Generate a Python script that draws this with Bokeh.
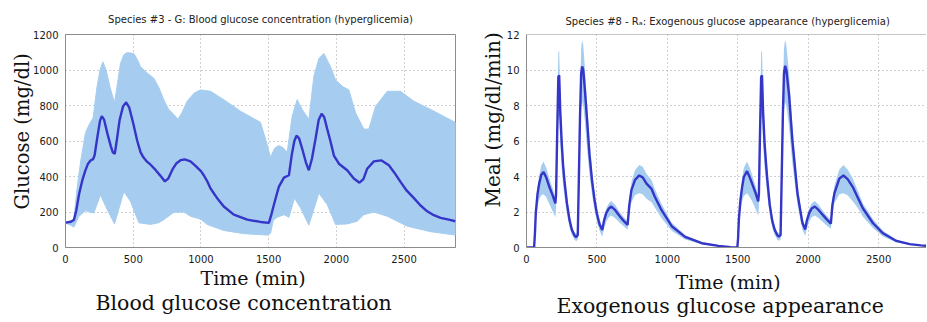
from bokeh.plotting import figure
from bokeh.layouts import row
from bokeh.models import Range1d, FixedTicker, Title, Span
from bokeh.embed import file_html
from bokeh.resources import INLINE

# ---------------- data: blood glucose G (mg/dl) ----------------
G_t_mean = [0, 40, 62, 80, 100, 123, 145, 165, 185, 204,
            215, 235, 255, 268, 285, 310, 335, 350, 364, 380,
            400, 425, 448, 470, 500, 530, 554, 575, 600, 630,
            665, 700, 734, 760, 790, 820, 850, 880, 923, 960,
            1000, 1021, 1050, 1071, 1100, 1120, 1169, 1243, 1342, 1440,
            1502, 1520, 1539, 1560, 1576, 1613, 1650, 1670, 1690, 1706,
            1725, 1748, 1775, 1797, 1820, 1846, 1870, 1891, 1910, 1933,
            1958, 1982, 2019, 2080, 2129, 2171, 2200, 2228, 2277, 2331,
            2388, 2430, 2474, 2520, 2573, 2620, 2671, 2720, 2770, 2830,
            2880]
G_mean = [140, 145, 155, 210, 300, 375, 430, 470, 490, 498,
          520, 620, 715, 740, 720, 640, 570, 535, 528, 610,
          720, 795, 818, 790, 700, 600, 537, 508, 485, 465,
          437, 405, 372, 390, 440, 475, 492, 496, 485, 460,
          430, 407, 368, 333, 300, 278, 231, 185, 157, 144,
          139, 185, 241, 300, 343, 394, 407, 518, 600, 630,
          615, 556, 480, 435, 500, 611, 720, 754, 735, 667,
          594, 518, 472, 435, 389, 365, 385, 444, 485, 491,
          463, 420, 370, 320, 278, 238, 204, 182, 167, 157,
          148]

G_t_hi = [0, 40, 62, 85, 111, 148, 180, 204, 233, 255,
          276, 300, 330, 362, 385, 406, 430, 455, 505, 530,
          554, 600, 652, 690, 726, 760, 800, 830, 860, 898,
          950, 997, 1071, 1169, 1292, 1440, 1477, 1514, 1545, 1576,
          1610, 1637, 1674, 1711, 1748, 1797, 1834, 1871, 1908, 1957,
          1994, 2050, 2092, 2142, 2203, 2240, 2290, 2376, 2474, 2573,
          2696, 2880]
G_hi = [142, 150, 165, 330, 481, 648, 700, 731, 907, 1000,
        1046, 1000, 900, 815, 930, 1037, 1085, 1098, 1093, 1060,
        1019, 985, 954, 900, 833, 780, 750, 722, 760, 824,
        870, 888, 880, 833, 768, 705, 611, 509, 560, 574,
        560, 537, 741, 833, 778, 722, 963, 1065, 1093, 1019,
        944, 905, 889, 759, 667, 667, 796, 880, 880, 824,
        778, 704]

G_t_lo = [0, 40, 62, 99, 148, 209, 258, 310, 362, 431,
          480, 542, 628, 690, 726, 800, 874, 923, 997, 1046,
          1169, 1317, 1490, 1514, 1535, 1563, 1613, 1650, 1691, 1736,
          1797, 1871, 1933, 1994, 2080, 2154, 2203, 2277, 2376, 2524,
          2696, 2880]
G_lo = [138, 125, 115, 176, 207, 194, 296, 210, 133, 315,
        259, 139, 130, 140, 157, 198, 200, 176, 160, 130,
        96, 78, 70, 80, 155, 170, 185, 170, 278, 222,
        126, 306, 241, 130, 133, 148, 185, 200, 176, 120,
        89, 70]

# ---------------- data: exogenous glucose appearance Ra (mg/dl/min) ----------------
R_t_day1 = [0, 54, 60, 66, 78, 90, 105, 121, 140, 162,
            185, 205, 210, 218, 226, 232, 240, 250, 260, 269,
            287, 305, 322, 340, 352, 364, 372, 380, 388, 395,
            403, 412, 430, 447, 465, 483, 500, 519, 538, 550,
            566, 585, 602, 630, 662, 690, 718, 730, 745, 770,
            800, 825, 852, 888, 911, 959, 1031, 1126, 1245, 1364,
            1450, 1497]
R_mean_day1 = [0, 0, 0.8, 1.94, 3.0, 3.6, 4.1, 4.25, 3.95, 3.42,
               2.95, 2.49, 3.0, 6.5, 9.6, 9.7, 7.6, 5.9, 4.6, 3.79,
               2.5, 1.57, 1.0, 0.69, 0.58, 0.7, 4.0, 7.4, 9.8, 10.2,
               10.0, 9.14, 7.2, 5.26, 3.8, 2.68, 1.9, 1.3, 0.98, 1.5,
               1.94, 2.2, 2.31, 2.1, 1.76, 1.5, 1.28, 2.4, 3.23, 3.8,
               4.06, 3.95, 3.6, 3.3, 2.86, 2.1, 1.2, 0.6, 0.24, 0.09,
               0.02, 0]
R_hi_day1 = [0, 0, 0.9, 2.15, 3.35, 4.05, 4.6, 4.85, 4.5, 3.9,
             3.35, 2.85, 3.4, 7.4, 11.0, 11.1, 8.7, 6.8, 5.3, 4.35,
             2.9, 1.85, 1.2, 0.88, 0.78, 0.9, 4.6, 8.5, 11.2, 11.7,
             11.4, 10.4, 8.2, 6.0, 4.35, 3.05, 2.2, 1.55, 1.2, 1.72,
             2.2, 2.5, 2.62, 2.4, 2.0, 1.72, 1.5, 2.75, 3.7, 4.35,
             4.65, 4.55, 4.15, 3.8, 3.3, 2.45, 1.4, 0.7, 0.3, 0.12,
             0.03, 0]
R_lo_day1 = [0, 0, 0.6, 1.5, 2.3, 2.7, 2.95, 3.0, 2.85, 2.45,
             2.05, 1.7, 2.3, 5.0, 7.2, 7.4, 5.8, 4.5, 3.5, 2.9,
             1.9, 1.15, 0.7, 0.45, 0.35, 0.45, 3.0, 5.8, 7.8, 8.2,
             8.0, 7.3, 5.6, 4.1, 3.0, 2.1, 1.45, 0.95, 0.6, 1.05,
             1.45, 1.7, 1.8, 1.65, 1.4, 1.2, 1.0, 1.9, 2.55, 2.95,
             3.05, 3.0, 2.75, 2.55, 2.25, 1.65, 0.95, 0.45, 0.18, 0.06,
             0.01, 0]

R_t_day2 = [1502, 1508, 1519, 1531, 1543, 1566, 1585, 1602, 1625, 1645,
            1650, 1658, 1666, 1672, 1680, 1690, 1700, 1709, 1727, 1745,
            1762, 1780, 1792, 1804, 1812, 1820, 1828, 1836, 1845, 1864,
            1888, 1924, 1959, 1979, 1990, 2007, 2025, 2047, 2075, 2102,
            2130, 2161, 2172, 2186, 2221, 2250, 2280, 2316, 2350, 2388,
            2459, 2531, 2626, 2721, 2800, 2880]
R_mean_day2 = [0.5, 1.6, 2.68, 3.4, 3.97, 4.3, 3.95, 3.6, 3.1, 2.6,
               3.0, 6.5, 9.6, 9.7, 7.6, 5.9, 4.8, 3.9, 2.4, 1.5,
               1.0, 0.7, 0.61, 0.7, 4.0, 7.4, 9.8, 10.24, 10.0, 8.6,
               6.0, 3.05, 1.38, 1.02, 1.5, 1.94, 2.2, 2.31, 2.1, 1.85,
               1.6, 1.35, 2.4, 3.05, 3.88, 4.06, 3.85, 3.42, 2.85, 2.21,
               1.38, 0.8, 0.37, 0.19, 0.12, 0.07]
R_hi_day2 = [0.6, 1.8, 3.05, 3.9, 4.5, 4.85, 4.5, 4.1, 3.5, 2.95,
             3.4, 7.4, 11.0, 11.1, 8.7, 6.8, 5.5, 4.5, 2.8, 1.75,
             1.2, 0.88, 0.8, 0.9, 4.6, 8.5, 11.2, 11.7, 11.4, 9.8,
             6.9, 3.5, 1.6, 1.25, 1.72, 2.2, 2.5, 2.62, 2.4, 2.1,
             1.82, 1.55, 2.75, 3.5, 4.4, 4.65, 4.4, 3.9, 3.25, 2.5,
             1.6, 0.95, 0.45, 0.23, 0.14, 0.09]
R_lo_day2 = [0.4, 1.3, 2.1, 2.6, 2.9, 3.05, 2.85, 2.6, 2.2, 1.8,
             2.3, 5.0, 7.2, 7.4, 5.8, 4.5, 3.7, 3.0, 1.85, 1.1,
             0.7, 0.45, 0.38, 0.45, 3.0, 5.8, 7.8, 8.2, 8.0, 6.8,
             4.7, 2.4, 1.0, 0.65, 1.05, 1.45, 1.7, 1.8, 1.65, 1.45,
             1.25, 1.05, 1.9, 2.5, 3.0, 3.05, 2.95, 2.6, 2.25, 1.75,
             1.1, 0.62, 0.28, 0.14, 0.08, 0.05]

R_t = R_t_day1 + R_t_day2
R_mean = R_mean_day1 + R_mean_day2
R_hi = R_hi_day1 + R_hi_day2
R_lo = R_lo_day1 + R_lo_day2

x_ticks = [0, 500, 1000, 1500, 2000, 2500]
G_ticks = [0, 200, 400, 600, 800, 1000, 1200]
R_ticks = [0, 2, 4, 6, 8, 10, 12]

BAND = "#a6cdef"
LINE = "#3535c8"
FRAME = "#8c8c8c"
SANS = "DejaVu Sans"
SERIF = "DejaVu Serif"


def style(p, yticks, title_standoff):
    p.xaxis.ticker = FixedTicker(ticks=x_ticks)
    p.yaxis.ticker = FixedTicker(ticks=yticks)
    p.grid.grid_line_color = "#a0a0a0"
    p.grid.grid_line_dash = "1 3"
    p.axis.major_tick_line_color = None
    p.axis.minor_tick_line_color = None
    p.axis.major_tick_out = 0
    p.axis.major_tick_in = 0
    p.axis.major_label_standoff = 7
    p.axis.major_label_text_font = SANS
    p.axis.major_label_text_font_size = "10px"
    p.axis.major_label_text_color = "#1a1a1a"
    p.axis.axis_line_color = FRAME
    p.title.text_font = SANS
    p.title.text_font_size = "10px"
    p.title.text_font_style = "normal"
    p.title.text_color = "#222222"
    p.title.standoff = title_standoff


def serif_title(text, size, align, offset, standoff, lh=1.2):
    return Title(text=text, align=align, offset=offset, text_font=SERIF,
                 text_font_size=size, text_font_style="normal",
                 text_color="#111111", standoff=standoff, text_line_height=lh)


# ---------------- left: glucose ----------------
p1 = figure(width=475, height=322, min_border_left=65, min_border_right=20,
            min_border_top=34, min_border_bottom=72,
            x_range=Range1d(0, 2880), y_range=Range1d(0, 1200),
            output_backend="svg", toolbar_location=None,
            title="Species #3 - G: Blood glucose concentration (hyperglicemia)")
style(p1, G_ticks, 19)
p1.title.align = "center"
p1.outline_line_color = FRAME
p1.patch(G_t_hi + G_t_lo[::-1], G_hi + G_lo[::-1], fill_color=BAND, line_color=BAND,
         line_width=1)
p1.line(G_t_mean, G_mean, line_color=LINE, line_width=2.4)
p1.add_layout(serif_title("Glucose (mg/dl)", "19.5px", "left", 38, -6), "left")
p1.add_layout(serif_title("Time (min)", "19px", "left", 135, -1), "below")
p1.add_layout(serif_title("Blood glucose concentration", "20.5px", "left", 30, 1, 1.0), "below")

# ---------------- right: exogenous glucose appearance ----------------
p2 = figure(width=451, height=322, min_border_left=51, min_border_right=0,
            min_border_top=30, min_border_bottom=75,
            x_range=Range1d(0, 2840), y_range=Range1d(0, 12),
            output_backend="svg", toolbar_location=None,
            title="Species #8 - R\u2090: Exogenous glucose appearance (hyperglicemia)")
style(p2, R_ticks, 16)
p2.title.align = "left"
p2.title.offset = 39
p2.outline_line_color = None
p2.add_layout(Span(location=12, dimension="width", line_color=FRAME, line_width=1))
p2.varea(x=R_t, y1=R_lo, y2=R_hi, fill_color=BAND)
p2.line(R_t, R_mean, line_color=LINE, line_width=2.4)
p2.add_layout(serif_title("Meal (mg/dl/min)", "20px", "left", 40, -3), "left")
p2.add_layout(serif_title("Time (min)", "19px", "left", 149, 5.6), "below")
p2.add_layout(serif_title("Exogenous glucose appearance", "20.5px", "left", 30, -5.6, 1.0), "below")

layout = row(p1, p2)
open("out.html", "w").write(file_html(layout, INLINE))
